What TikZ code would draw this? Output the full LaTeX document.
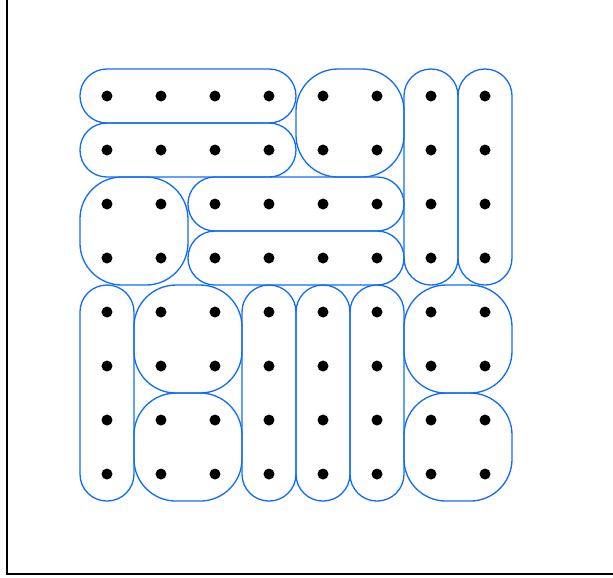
\documentclass[tikz,border=0pt]{standalone}
\usepackage{tikz}
\usetikzlibrary{positioning,calc}

\definecolor{tileblue}{RGB}{16,108,250}

\tikzset{
    bar/.style={draw=tileblue, line width=0.75pt, rounded corners=0.538cm},
    block/.style={draw=tileblue, line width=0.75pt, rounded corners=0.84cm},
    dot/.style={fill=black}
}

\begin{document}
\begin{tikzpicture}[x=1.08cm, y=-1.08cm]
    \useasboundingbox (-1.981,-1.778) rectangle (9.370,8.907);

    % Frame
    \draw[line width=0.8pt] (-1.852,-1.778) -- (-1.852,8.852) -- (9.370,8.852);

    % Horizontal bars
    \foreach \xa/\ya/\xb/\yb in {0/0/3/0, 0/1/3/1, 2/2/5/2, 2/3/5/3}
        \draw[bar] (\xa-0.5,\ya-0.5) rectangle (\xb+0.5,\yb+0.5);

    % Vertical bars
    \foreach \xa/\ya/\xb/\yb in {6/0/6/3, 7/0/7/3, 0/4/0/7, 3/4/3/7, 4/4/4/7, 5/4/5/7}
        \draw[bar] (\xa-0.5,\ya-0.5) rectangle (\xb+0.5,\yb+0.5);

    % Square blocks
    \foreach \xa/\ya in {4/0, 0/2, 1/4, 1/6, 6/4, 6/6}
        \draw[block] (\xa-0.5,\ya-0.5) rectangle (\xa+1.5,\ya+1.5);

    % Grid of dots
    \foreach \i in {0,...,7}
        \foreach \j in {0,...,7}
            \fill[dot] (\i,\j) circle (0.11cm);
\end{tikzpicture}
\end{document}
